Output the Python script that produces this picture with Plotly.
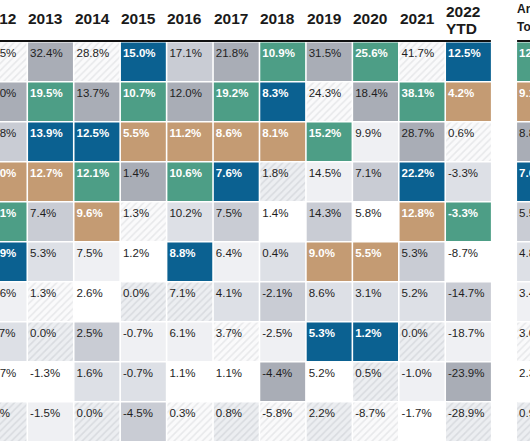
import plotly.graph_objects as go

# ---------------- data ----------------
columns = ["2012", "2013", "2014", "2015", "2016", "2017", "2018", "2019",
           "2020", "2021", "2022<br>YTD", "Annualized<br>Total Return"]

ret_2012 = [18.5, 18.0, 17.8, 16.0, 13.1, 12.9, 12.6, 11.7, 10.7, 4.2]
cls_2012 = ["H1", "D", "M", "T", "G", "B", "V", "L", "W", "H2"]
ret_2013 = [32.4, 19.5, 13.9, 12.7, 7.4, 5.3, 1.3, 0.0, -1.3, -1.5]
cls_2013 = ["D", "G", "B", "T", "M", "L", "H1", "H2", "W", "V"]
ret_2014 = [28.8, 13.7, 12.5, 12.1, 9.6, 7.5, 2.6, 2.5, 1.6, 0.0]
cls_2014 = ["H1", "D", "B", "G", "T", "V", "W", "M", "L", "H2"]
ret_2015 = [15.0, 10.7, 5.5, 1.4, 1.3, 1.2, 0.0, -0.7, -0.7, -4.5]
cls_2015 = ["B", "G", "T", "D", "H1", "W", "H2", "V", "L", "M"]
ret_2016 = [17.1, 12.0, 11.2, 10.6, 10.2, 8.8, 7.1, 6.1, 1.1, 0.3]
cls_2016 = ["M", "D", "T", "G", "L", "B", "H2", "V", "W", "H1"]
ret_2017 = [21.8, 19.2, 8.6, 7.6, 7.5, 6.4, 4.1, 3.7, 1.1, 0.8]
cls_2017 = ["D", "G", "T", "B", "M", "V", "L", "H1", "W", "H2"]
ret_2018 = [10.9, 8.3, 8.1, 1.8, 1.4, 0.4, -2.1, -2.5, -4.4, -5.8]
cls_2018 = ["G", "B", "T", "H2", "W", "L", "M", "V", "D", "H1"]
ret_2019 = [31.5, 24.3, 15.2, 14.5, 14.3, 9.0, 8.6, 5.3, 5.2, 2.2]
cls_2019 = ["D", "H1", "G", "V", "M", "T", "L", "B", "W", "H2"]
ret_2020 = [25.6, 18.4, 9.9, 7.1, 5.8, 5.5, 3.1, 1.2, 0.5, -8.7]
cls_2020 = ["G", "D", "V", "M", "W", "T", "L", "B", "H2", "H1"]
ret_2021 = [41.7, 38.1, 28.7, 22.2, 12.8, 5.3, 5.2, 0.0, -1.0, -1.7]
cls_2021 = ["H1", "G", "D", "B", "T", "M", "L", "H2", "V", "W"]
ret_2022 = [12.5, 4.2, 0.6, -3.3, -3.3, -8.7, -14.7, -18.7, -23.9, -28.9]
cls_2022 = ["B", "T", "H1", "L", "G", "W", "M", "V", "D", "H2"]
ret_ann = [12.3, 9.1, 8.8, 7.6, 5.5, 4.8, 3.4, 3.0, 2.3, 0.9]
cls_ann = ["G", "T", "D", "B", "M", "L", "V", "H1", "W", "H2"]

returns = [ret_2012, ret_2013, ret_2014, ret_2015, ret_2016, ret_2017,
           ret_2018, ret_2019, ret_2020, ret_2021, ret_2022, ret_ann]
classes = [cls_2012, cls_2013, cls_2014, cls_2015, cls_2016, cls_2017,
           cls_2018, cls_2019, cls_2020, cls_2021, cls_2022, cls_ann]

# ---------------- styles ----------------
STYLE = {
    "B": dict(color="#0b6191", pattern=None, light=True),
    "G": dict(color="#4d9e86", pattern=None, light=True),
    "T": dict(color="#c49b73", pattern=None, light=True),
    "D": dict(color="#a9adb6", pattern=None, light=False),
    "M": dict(color="#c9ccd4", pattern=None, light=False),
    "L": dict(color="#dde0e6", pattern=None, light=False),
    "V": dict(color="#eff0f3", pattern=None, light=False),
    "W": dict(color="#ffffff", pattern=None, light=False),
    "H1": dict(color="#ffffff", pattern=dict(shape="/", fgcolor="#d3d5da",
                                            bgcolor="#fafafb", size=5, solidity=0.3), light=False),
    "H2": dict(color="#eceef1", pattern=dict(shape="/", fgcolor="#c4c7cd",
                                            bgcolor="#eceef1", size=5, solidity=0.3), light=False),
}

ANN_GAP = 1.53          # extra spacing before the annualized column (in column units)
COL_W = 0.966
ROW_H = 0.962
W_PX, H_PX = 530, 442
COL_PX, COL0_PX = 46.44, 4.06
ROW_PX, ROW0_PX = 40.0, 61.7

col_x = [float(i) for i in range(len(columns) - 1)] + [len(columns) - 2 + ANN_GAP]

x_lo = -COL0_PX / COL_PX
x_hi = (W_PX - COL0_PX) / COL_PX


def prow(px):
    return (px - ROW0_PX) / ROW_PX


def to_paper_x(xv):
    return (xv - x_lo) / (x_hi - x_lo)


def to_paper_y(px):
    return 1.0 - px / H_PX


fig = go.Figure()

# cells
for key, st in STYLE.items():
    xs, bases = [], []
    for ci, (vals, cl) in enumerate(zip(returns, classes)):
        for ri, c in enumerate(cl):
            if c == key:
                xs.append(col_x[ci])
                bases.append(ri - ROW_H / 2)
    if not xs:
        continue
    marker = dict(color=st["color"], line=dict(width=0))
    if st["pattern"]:
        marker["pattern"] = st["pattern"]
    fig.add_trace(go.Bar(x=xs, y=[ROW_H] * len(xs), base=bases, width=COL_W,
                         marker=marker, hoverinfo="skip", showlegend=False))

# cell labels
for light in (False, True):
    tx, ty, tt = [], [], []
    for ci, (vals, cl) in enumerate(zip(returns, classes)):
        for ri, (v, c) in enumerate(zip(vals, cl)):
            if STYLE[c]["light"] == light:
                tx.append(col_x[ci] - COL_W / 2 + 2.0 / COL_PX)
                ty.append(ri - 0.19)
                tt.append(f"{v:.1f}%")
    fig.add_trace(go.Scatter(
        x=tx, y=ty, text=tt, mode="text", textposition="middle right",
        textfont=dict(family="Liberation Sans, Arial, sans-serif", size=11.5,
                      color="#ffffff" if light else "#1f1f1f",
                      weight="bold" if light else "normal"),
        hoverinfo="skip", showlegend=False, cliponaxis=True))

# header labels (paper coordinates so partly visible headers still render)
annotations = []
for ci, name in enumerate(columns):
    left = to_paper_x(col_x[ci] - COL_W / 2)
    lines = name.split("<br>")
    if len(lines) == 1:
        ys, size = [19.0], 15.5
    elif ci == len(columns) - 1:
        ys, size = [8.5, 26.5], 12
    else:
        ys, size = [11.5, 28.5], 15.5
    for line, ypx in zip(lines, ys):
        annotations.append(dict(
            x=left, y=to_paper_y(ypx), xref="paper", yref="paper", text=line,
            showarrow=False, xanchor="left", yanchor="middle", xshift=-2,
            font=dict(family="Liberation Sans, Arial, sans-serif", size=size,
                      color="#1a1a1a", weight="bold")))

# header rules
shapes = [
    dict(type="line", xref="x", yref="y", x0=-1.0, x1=col_x[-2] + COL_W / 2,
         y0=prow(41.0), y1=prow(41.0), line=dict(color="#111111", width=2.2)),
    dict(type="line", xref="x", yref="y", x0=col_x[-1] - COL_W / 2, x1=col_x[-1] + 1.0,
         y0=prow(41.0), y1=prow(41.0), line=dict(color="#111111", width=2.2)),
]

y_top = prow(0)
y_bot = prow(H_PX)

fig.update_layout(
    width=W_PX, height=H_PX,
    margin=dict(l=0, r=0, t=0, b=0),
    paper_bgcolor="#ffffff", plot_bgcolor="#ffffff",
    barmode="overlay",
    xaxis=dict(range=[x_lo, x_hi], visible=False, fixedrange=True),
    yaxis=dict(range=[y_bot, y_top], visible=False, fixedrange=True),
    annotations=annotations,
    shapes=shapes,
    showlegend=False,
)

fig.write_html("out.html", config={"displayModeBar": False},
               post_script="document.body.style.margin='0';document.body.style.overflow='hidden';")
